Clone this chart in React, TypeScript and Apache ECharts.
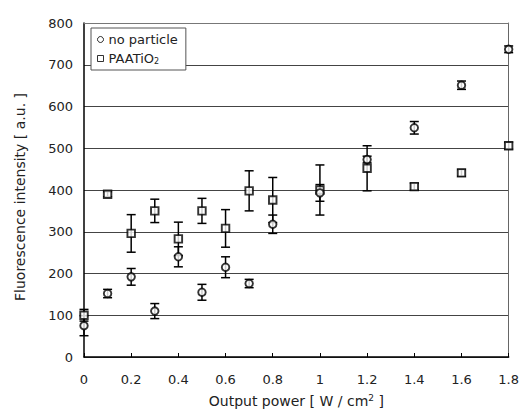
import React, { useEffect, useRef } from "react";
import * as echarts from "echarts";

const xs = [0, 0.1, 0.2, 0.3, 0.4, 0.5, 0.6, 0.7, 0.8, 1.0, 1.2, 1.4, 1.6, 1.8];
const noParticle = [75, 152, 192, 110, 240, 155, 215, 176, 318, 393, 473, 549, 651, 737];
const noParticleErr = [24, 10, 20, 18, 24, 19, 25, 10, 22, 20, 8, 15, 10, 8];
const paaTiO2 = [100, 390, 296, 350, 283, 350, 308, 398, 376, 400, 452, 408, 441, 506];
const paaTiO2Err = [14, 6, 45, 28, 40, 30, 45, 48, 54, 60, 54, 8, 8, 8];
const yTicks = [0, 100, 200, 300, 400, 500, 600, 700, 800];
const seriesNames = ["no particle", "PAATiO2"];
const yTitle = "Fluorescence intensity [ a.u. ]";
const xTitle = "Output power [ W / cm{sup|2} ]";

const FONT = "DejaVu Sans, Verdana, sans-serif";
const TXT = "#222";

function errRender(params: any, api: any) {
  const x = api.value(0);
  const lo = api.value(1);
  const hi = api.value(2);
  const pHi = api.coord([x, hi]);
  const pLo = api.coord([x, lo]);
  const w = 4.5;
  const st = { stroke: "#000", lineWidth: 1.5 };
  return {
    type: "group",
    children: [
      { type: "line", shape: { x1: pHi[0], y1: pHi[1], x2: pLo[0], y2: pLo[1] }, style: st },
      { type: "line", shape: { x1: pHi[0] - w, y1: pHi[1], x2: pHi[0] + w, y2: pHi[1] }, style: st },
      { type: "line", shape: { x1: pLo[0] - w, y1: pLo[1], x2: pLo[0] + w, y2: pLo[1] }, style: st },
    ],
  };
}

export default function App() {
  const ref = useRef<HTMLDivElement>(null);
  useEffect(() => {
    const chart = echarts.init(ref.current!, undefined, { renderer: "svg" });
    const markerStyle = { color: "#fff", borderColor: "#000", borderWidth: 1.9 };
    chart.setOption({
      animation: false,
      backgroundColor: "#fff",
      textStyle: { fontFamily: FONT },
      grid: { left: 84, right: 11, top: 23, bottom: 57, containLabel: false },
      graphic: [
        {
          type: "text",
          x: 20,
          y: 197,
          rotation: Math.PI / 2,
          style: {
            text: yTitle,
            fontSize: 14,
            fontFamily: FONT,
            fill: TXT,
            align: "center",
            verticalAlign: "middle",
          },
        },
      ],
      legend: {
        orient: "vertical",
        left: 91,
        top: 28,
        padding: [5, 8, 5, 6],
        itemGap: 6,
        itemWidth: 6,
        itemHeight: 6,
        backgroundColor: "#fff",
        borderColor: "#555",
        borderWidth: 1,
        data: seriesNames,
        itemStyle: { color: "#fff", borderColor: "#000", borderWidth: 1 },
        formatter: (n: string) => (n === "PAATiO2" ? "PAATiO{s|2}" : n),
        textStyle: {
          fontFamily: FONT,
          fontSize: 13,
          color: TXT,
          rich: { s: { fontSize: 8, fontFamily: FONT, color: TXT, verticalAlign: "bottom", padding: [4, 0, 0, 0] } },
        },
      },
      xAxis: [
        {
          type: "value",
          position: "bottom",
          min: 0,
          max: 1.8,
          interval: 0.2,
          axisLine: { onZero: false, lineStyle: { color: "#000", width: 1.5 } },
          axisTick: { show: true, inside: true, length: 4, lineStyle: { color: "#000" } },
          splitLine: { show: false },
          axisLabel: {
            fontSize: 13,
            color: TXT,
            margin: 16,
            fontFamily: FONT,
            formatter: (v: number) => String(Math.round(v * 10) / 10),
          },
          name: xTitle,
          nameLocation: "middle",
          nameGap: 36,
          nameTextStyle: {
            fontSize: 14,
            color: TXT,
            fontFamily: FONT,
            rich: { sup: { fontSize: 9, color: TXT, fontFamily: FONT, verticalAlign: "top", padding: [0, 0, 6, 0] } },
          },
        },
        {
          type: "value",
          position: "top",
          min: 0,
          max: 1.8,
          interval: 0.2,
          axisLine: { onZero: false, lineStyle: { color: "#777", width: 1 } },
          axisTick: { show: false },
          axisLabel: { show: false },
          splitLine: { show: false },
        },
      ],
      yAxis: [
        {
          type: "value",
          position: "left",
          min: yTicks[0],
          max: yTicks[yTicks.length - 1],
          interval: 100,
          axisLine: { show: true, onZero: false, lineStyle: { color: "#000", width: 1.5 } },
          axisTick: { show: false },
          splitLine: { show: true, lineStyle: { color: "#444", width: 1 } },
          axisLabel: { fontSize: 13, color: TXT, margin: 11, fontFamily: FONT },
        },
        {
          type: "value",
          position: "right",
          min: 0,
          max: 800,
          interval: 100,
          axisLine: { show: true, onZero: false, lineStyle: { color: "#666", width: 1 } },
          axisTick: { show: false },
          axisLabel: { show: false },
          splitLine: { show: false },
        },
      ],
      series: [
        {
          name: "no particle err",
          type: "custom",
          renderItem: errRender,
          data: xs.map((x, i) => [x, noParticle[i] - noParticleErr[i], noParticle[i] + noParticleErr[i]]),
          z: 2,
          silent: true,
        },
        {
          name: "PAATiO2 err",
          type: "custom",
          renderItem: errRender,
          data: xs.map((x, i) => [x, paaTiO2[i] - paaTiO2Err[i], paaTiO2[i] + paaTiO2Err[i]]),
          z: 2,
          silent: true,
        },
        {
          name: seriesNames[0],
          type: "scatter",
          symbol: "circle",
          symbolSize: 7.5,
          itemStyle: markerStyle,
          data: xs.map((x, i) => [x, noParticle[i]]),
          z: 4,
        },
        {
          name: seriesNames[1],
          type: "scatter",
          symbol: "rect",
          symbolSize: 7.5,
          itemStyle: markerStyle,
          data: xs.map((x, i) => [x, paaTiO2[i]]),
          z: 3,
        },
      ],
    });
    return () => chart.dispose();
  }, []);
  return <div ref={ref} style={{ position: "fixed", left: 0, top: 0, width: 522, height: 414 }} />;
}
